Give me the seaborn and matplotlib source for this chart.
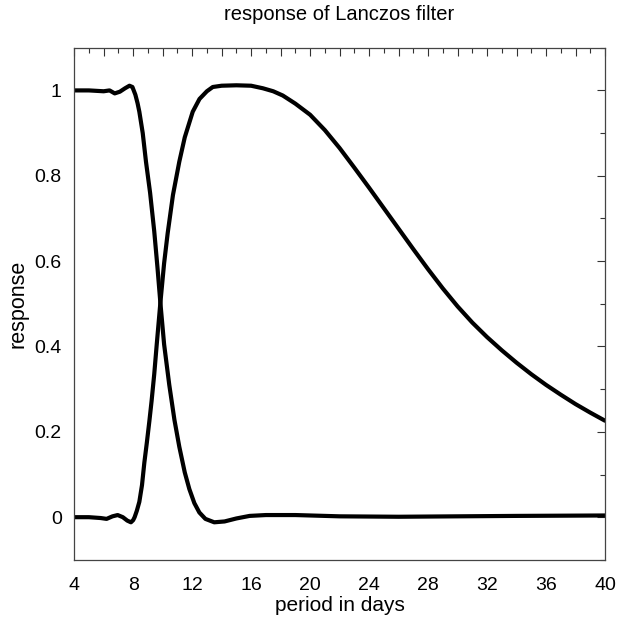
import matplotlib
matplotlib.use("Agg")
import matplotlib.pyplot as plt
import matplotlib.ticker as mticker
import seaborn as sns
import pandas as pd

# curva que começa em 1 (passa-alta em período)
periodo_a = [4, 5, 5.5, 6, 6.4, 6.75, 7.1, 7.45, 7.75, 7.95, 8.15, 8.3, 8.42, 8.65, 8.87,
             9.15, 9.43, 9.65, 9.84, 10.1, 10.45, 10.8, 11.13, 11.5, 11.81, 12.15, 12.49,
             12.9, 13.5, 14.2, 15, 15.9, 17, 19, 22, 26, 30, 34, 40]
resposta_a = [1.0, 1.0, 0.999, 0.998, 1.0, 0.993, 0.997, 1.005, 1.011, 1.008, 0.99, 0.97, 0.95, 0.9, 0.833,
              0.76, 0.67, 0.585, 0.505, 0.405, 0.31, 0.228, 0.165, 0.105, 0.066, 0.033, 0.011,
              -0.004, -0.012, -0.01, -0.003, 0.003, 0.005, 0.005, 0.002, 0.001, 0.002, 0.003, 0.004]

# curva que começa em 0 (passa-banda)
periodo_b = [4, 5, 5.8, 6.2, 6.6, 6.95, 7.3, 7.6, 7.85, 8.0, 8.1, 8.25, 8.42, 8.6, 8.76,
             8.93, 9.1, 9.25, 9.43, 9.6, 9.84, 10.1, 10.34, 10.7, 11.13, 11.5, 12.04, 12.5,
             13, 13.4, 14, 15, 16, 16.8, 17.5, 18.15, 19, 20, 21, 22, 23, 24, 25, 26, 27, 28,
             29, 30, 31, 32, 33, 34, 35, 36, 37, 38, 39, 40]
resposta_b = [0.0, 0.0, -0.002, -0.004, 0.002, 0.005, 0.0, -0.008, -0.012, -0.007, 0.0, 0.015, 0.036, 0.075, 0.128,
              0.175, 0.225, 0.272, 0.335, 0.405, 0.5, 0.595, 0.665, 0.755, 0.833, 0.89, 0.95, 0.98,
              0.998, 1.008, 1.011, 1.012, 1.011, 1.005, 0.998, 0.988, 0.969, 0.943, 0.907, 0.865, 0.819, 0.772,
              0.724, 0.676, 0.628, 0.581, 0.536, 0.494, 0.456, 0.422, 0.391, 0.362, 0.335, 0.31, 0.287,
              0.265, 0.245, 0.226]

df = pd.concat([
    pd.DataFrame({'periodo': periodo_a, 'resposta': resposta_a, 'curva': 'a'}),
    pd.DataFrame({'periodo': periodo_b, 'resposta': resposta_b, 'curva': 'b'}),
])

sns.set_style('white')
plt.rcParams['font.family'] = ['Liberation Sans', 'DejaVu Sans']
plt.rcParams['text.color'] = 'black'
plt.rcParams['axes.labelcolor'] = 'black'
plt.rcParams['xtick.labelcolor'] = 'black'
plt.rcParams['ytick.labelcolor'] = 'black'

fig = plt.figure(figsize=(6.18, 6.20), dpi=100)
ax = fig.add_axes([0.12, 0.097, 0.859, 0.826])

for nome, grupo in df.groupby('curva'):
    g = grupo.sort_values('periodo')
    sns.lineplot(data=g, x='periodo', y='resposta', ax=ax, color='black',
                 linewidth=3.0, sort=False, estimator=None,
                 solid_joinstyle='round', solid_capstyle='round')

ax.set_xlim(4, 40)
ax.set_ylim(-0.1, 1.1)
ax.xaxis.set_major_locator(mticker.MultipleLocator(2))
ax.xaxis.set_minor_locator(mticker.MultipleLocator(1))
ax.xaxis.set_major_formatter(mticker.FuncFormatter(
    lambda v, p: f'{int(round(v))}' if round(v) % 4 == 0 else ''))
ax.yaxis.set_major_locator(mticker.MultipleLocator(0.2))
ax.yaxis.set_minor_locator(mticker.MultipleLocator(0.1))
ax.yaxis.set_major_formatter(mticker.FuncFormatter(
    lambda v, p: '0' if abs(v) < 1e-9 else ('1' if abs(v - 1) < 1e-9 else f'{v:.1f}')))

ax.tick_params(which='both', direction='in', top=True, right=True, color='#333333',
               labelsize=14, labelcolor='black')
ax.tick_params(axis='x', which='major', pad=12)
ax.tick_params(axis='y', which='major', pad=9)
ax.tick_params(which='major', length=6, width=0.8)
ax.tick_params(which='minor', length=3.5, width=0.8)
for s in ax.spines.values():
    s.set_color('#444444')
    s.set_linewidth(0.9)

ax.set_xlabel('period in days', fontsize=15, labelpad=2, color='black')
ax.set_ylabel('response', fontsize=15.5, labelpad=4, color='black')
ax.set_title('response of Lanczos filter', fontsize=14.5, pad=20, color='black')

fig.savefig('out.png', dpi=100)
